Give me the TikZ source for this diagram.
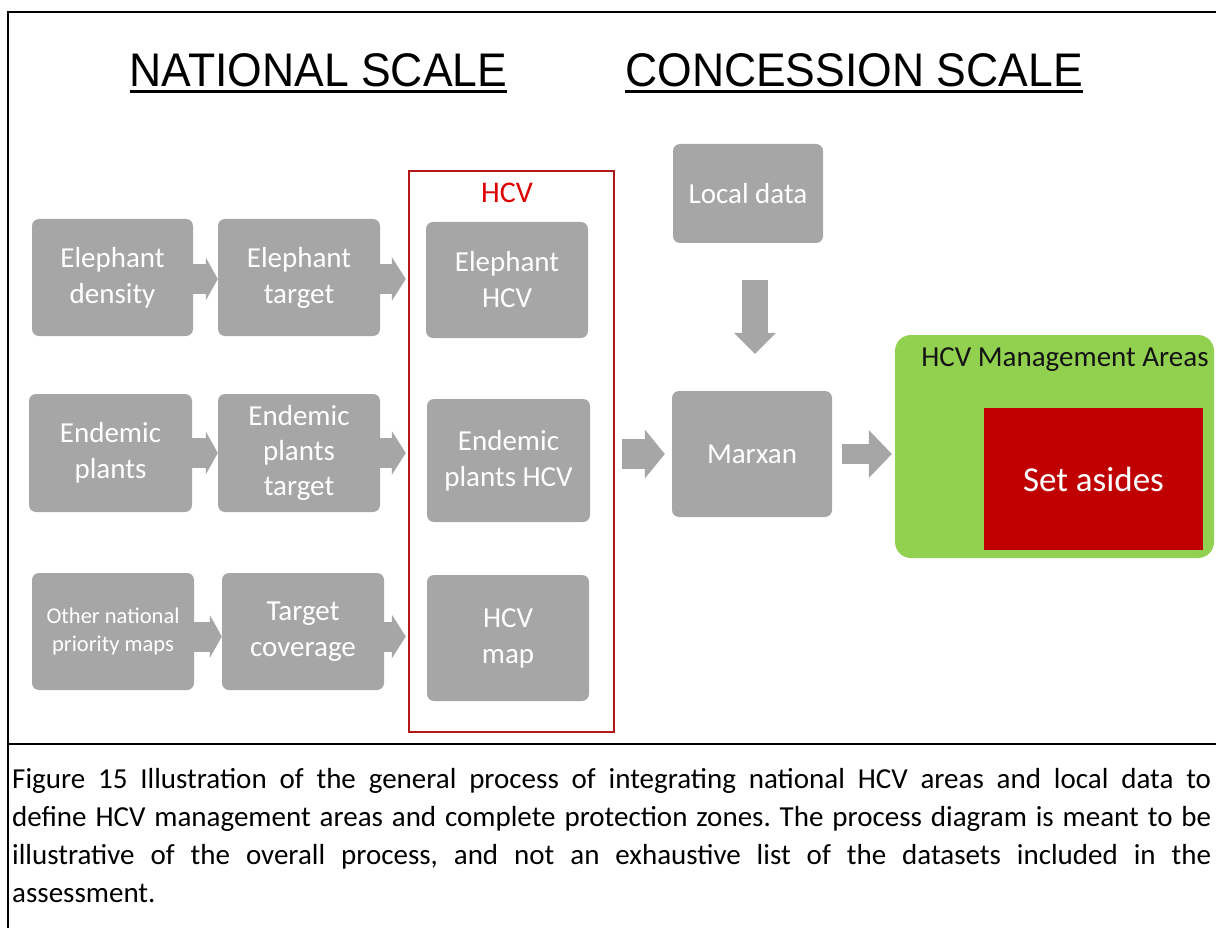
\documentclass[tikz,border=0pt]{standalone}
\usepackage{fontspec}
\setmainfont{Carlito}
\newfontfamily\headfont{Liberation Sans}
\usetikzlibrary{arrows.meta}
\frenchspacing

\definecolor{boxgray}{HTML}{A6A6A6}
\definecolor{leafgreen}{HTML}{92D050}
\definecolor{setred}{HTML}{C00000}
\definecolor{framered}{RGB}{178,24,24}
\definecolor{labelred}{RGB}{222,0,0}
\definecolor{inktext}{RGB}{20,20,20}

\newcommand{\fsz}[2]{\fontsize{#1}{#2}\selectfont}

\begin{document}
\begin{tikzpicture}[x=1pt,y=-1pt,
  gbox/.style={fill=boxgray, rounded corners=7pt, text=white, align=center,
    inner sep=0pt, font=\fsz{29}{36}},
  sz/.style 2 args={minimum width=#1pt, minimum height=#2pt},
  blockarrow/.style n args={3}{draw=boxgray, line width=#1pt,
    -{Triangle[width=#2pt,length=#3pt,line width=0pt]}},
  tablerule/.style={line width=2.5pt, line cap=rect},
  heading/.style={inner sep=0pt, anchor=base, font=\headfont\fsz{44.5}{50}},
  capline/.style={inner sep=0pt, anchor=base west, font=\fsz{29}{38}, text=black}
]
\useasboundingbox (0,0) rectangle (1216,928);
\clip (0,0) rectangle (1216,928);

% table frame around the figure and its caption
\draw[tablerule] (1240,12) -- (8,12) -- (8,950);
\draw[tablerule] (8,744) -- (1240,744);

% scale headings
\node[heading] (nat) at (318.5,87) {\scalebox{1}[1.06]{NATIONAL SCALE}};
\node[heading] (con) at (854,87) {\scalebox{1}[1.06]{CONCESSION SCALE}};
\draw[line width=3pt] ([yshift=-5pt]nat.base west) -- ([yshift=-5pt]nat.base east);
\draw[line width=3pt] ([yshift=-5pt]con.base west) -- ([yshift=-5pt]con.base east);

% HCV group frame
\node[draw=framered, line width=2.5pt, sz={205}{561}, inner sep=0pt] (hcvframe) at (511.5,451.5) {};
\node[anchor=base, inner sep=0pt, text=labelred, font=\fsz{30}{36}] (hcvlabel) at (507,203) {HCV};

% national inputs, targets and HCV layers
\node[gbox, sz={161}{117}] (eden) at (112.5,277.5) {Elephant\\density};
\node[gbox, sz={162}{117}] (etgt) at (299,277.5) {Elephant\\target};
\node[gbox, sz={162}{116}] (ehcv) at (507,280) {Elephant\\HCV};

\node[gbox, sz={163}{118}] (pden) at (110.5,453) {Endemic\\plants};
\node[gbox, sz={162}{118}, font=\fsz{29}{35}] (ptgt) at (299,453) {Endemic\\plants\\target};
\node[gbox, sz={163}{123}] (phcv) at (508.5,460.5) {Endemic\\plants HCV};

\node[gbox, sz={162}{117}, font=\fsz{22.5}{28}] (oth) at (113,631.5) {Other national\\priority maps};
\node[gbox, sz={162}{117}] (tcov) at (303,631.5) {Target\\coverage};
\node[gbox, sz={162}{126}] (hmap) at (508,638) {HCV\\map};

% concession scale
\node[gbox, sz={150}{99}] (local) at (748,193.5) {Local data};
\node[gbox, sz={160}{126}] (marxan) at (752,454) {Marxan};

\node[fill=leafgreen, rounded corners=16pt, sz={319}{223}, inner sep=0pt] (green) at (1054.5,446.5) {};
\node[anchor=base, inner sep=0pt, text=inktext, font=\fsz{29}{36}] (greenlabel) at (1065,366) {HCV Management Areas};
\node[fill=setred, sz={219}{142}, inner sep=0pt, text=white, font=\fsz{35}{40}] (setaside) at (1093.5,479) {Set asides};

% block arrows
\draw[blockarrow={30}{43}{12}] ([yshift=-1.5pt]eden.east) -- ([yshift=-1.5pt]etgt.west);
\draw[blockarrow={30}{43}{12}] (pden.east) -- (ptgt.west);
\draw[blockarrow={30}{43}{12}] ([yshift=-5pt]oth.east) -- ([yshift=-5pt]tcov.west);
\draw[blockarrow={30}{44}{14}, shorten >=2pt] ([yshift=-1.5pt]etgt.east) -- ([yshift=-1.5pt]etgt.east -| hcvframe.west);
\draw[blockarrow={30}{44}{14}, shorten >=2pt] (ptgt.east) -- (ptgt.east -| hcvframe.west);
\draw[blockarrow={30}{44}{14}, shorten >=2pt] ([yshift=-5pt]tcov.east) -- ([yshift=-5pt]tcov.east -| hcvframe.west);
\draw[blockarrow={30}{49}{20}, shorten <=7pt, shorten >=7pt] (hcvframe.east |- marxan.west) -- (marxan.west);
\draw[blockarrow={20}{48}{23}, shorten <=10pt, shorten >=3pt] (marxan.east) -- (marxan.east -| green.west);
\draw[blockarrow={26}{42}{21}, shorten <=37pt, shorten >=37pt] ([xshift=7pt]local.south) -- ([xshift=7pt]local.south |- marxan.north);

% caption
\node[capline] (cap1) at (12,788) {\makebox[1199pt][s]{Figure 15 Illustration of the general process of integrating national HCV areas and local data to}};
\node[capline] (cap2) at (12,826) {\makebox[1199pt][s]{define HCV management areas and complete protection zones. The process diagram is meant to be}};
\node[capline] (cap3) at (12,864) {\makebox[1199pt][s]{illustrative of the overall process, and not an exhaustive list of the datasets included in the}};
\node[capline] (cap4) at (12,902) {assessment.};
\end{tikzpicture}
\end{document}
